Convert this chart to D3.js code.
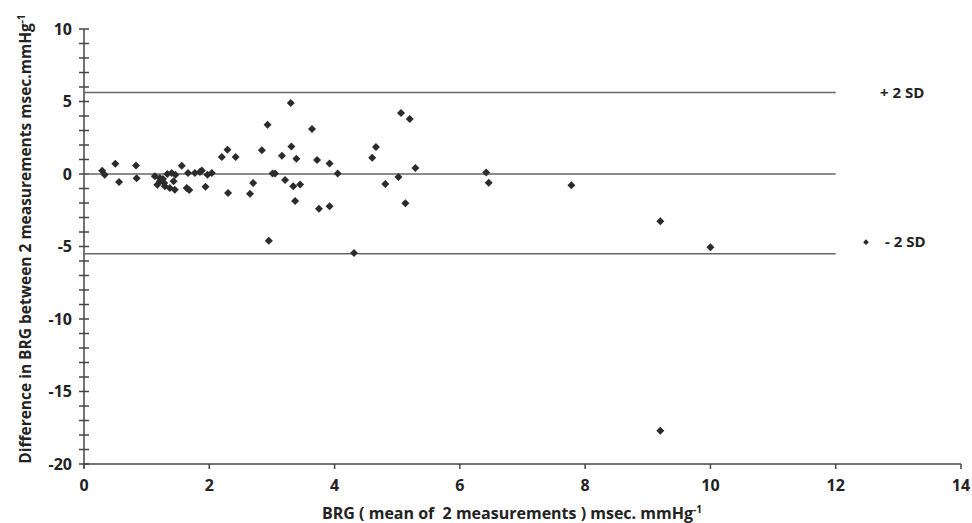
<!DOCTYPE html>
<html lang="en">
<head>
  <meta charset="UTF-8">
  <title>BRG Bland-Altman plot</title>
  <script src="https://d3js.org/d3.v7.min.js"></script>
  <style>
    body { margin: 0; background: #fff; }
    svg text { font-family: "Open Sans", "Liberation Sans", sans-serif; font-weight: bold; fill: #222; white-space: pre; }
    .tick-mark { stroke: #444; stroke-width: 1.5; }
  </style>
</head>
<body>
  <svg class="chart" width="972" height="523"></svg>
  <script>
    // mean of 2 measurements (x) and difference between them (y)
    const brgMean = [0.29, 0.33, 0.50, 0.56, 0.83, 0.84, 1.13, 1.17, 1.21, 1.21,
      1.26, 1.28, 1.29, 1.33, 1.37, 1.40, 1.43, 1.45, 1.46, 1.56,
      1.64, 1.68, 1.66, 1.77, 1.85, 1.88, 1.94, 1.97, 2.04, 2.20,
      2.29, 2.42, 2.30, 2.65, 2.70, 2.84, 2.93, 2.95, 3.01, 3.05,
      3.16, 3.21, 3.30, 3.31, 3.34, 3.37, 3.39, 3.45, 3.64, 3.72,
      3.75, 3.92, 3.92, 4.05, 4.31, 4.60, 4.66, 4.81, 5.02, 5.06,
      5.13, 5.20, 5.29, 6.42, 6.46, 7.78, 9.20, 9.20, 10.00];
    const brgDiff = [0.23, -0.05, 0.71, -0.55, 0.59, -0.30, -0.16, -0.74, -0.50, -0.28,
      -0.35, -0.62, -0.85, 0.00, -0.96, 0.07, -0.50, -1.08, -0.05, 0.57,
      -0.96, -1.10, 0.07, 0.07, 0.14, 0.25, -0.88, -0.05, 0.07, 1.17,
      1.67, 1.17, -1.31, -1.36, -0.62, 1.63, 3.39, -4.61, 0.04, 0.04,
      1.26, -0.41, 4.90, 1.90, -0.85, -1.86, 1.05, -0.72, 3.11, 0.96,
      -2.39, 0.73, -2.23, 0.04, -5.44, 1.12, 1.86, -0.69, -0.21, 4.20,
      -2.02, 3.80, 0.41, 0.10, -0.60, -0.78, -3.26, -17.7, -5.05];

    // reference lines: +2 SD, mean, -2 SD, drawn from x = 0 to 12
    const refLines = [5.62, 0.0, -5.5];
    const refLineEnd = 12;
    const xTicks = [0, 2, 4, 6, 8, 10, 12, 14];
    const yTicks = [10, 5, 0, -5, -10, -15, -20];
    const yMinorTicks = d3.range(-20, 11);

    const svg = d3.select(".chart");
    const x = d3.scaleLinear().domain([0, 14]).range([84, 961]);
    const y = d3.scaleLinear().domain([-20, 10]).range([464, 29]);

    // y axis, a tick every unit crossing the axis
    const yAxis = svg.append("g").attr("class", "y-axis");
    yAxis.append("line")
      .attr("class", "tick-mark")
      .attr("x1", x(0)).attr("x2", x(0))
      .attr("y1", y(10)).attr("y2", y(-20) + 4);
    yAxis.selectAll("line.y-minor")
      .data(yMinorTicks)
      .join("line")
      .attr("class", "y-minor tick-mark")
      .attr("x1", x(0) - 5).attr("x2", x(0) + 5)
      .attr("y1", d => y(d)).attr("y2", d => y(d));
    yAxis.selectAll("text.y-label")
      .data(yTicks)
      .join("text")
      .attr("class", "y-label")
      .attr("x", x(0) - 12)
      .attr("y", d => y(d))
      .attr("dy", "0.35em")
      .attr("text-anchor", "end")
      .style("font-size", "16px")
      .text(d => d);

    // x axis
    const xAxis = svg.append("g").attr("class", "x-axis");
    xAxis.append("line")
      .attr("class", "tick-mark")
      .attr("x1", x(0)).attr("x2", x(14))
      .attr("y1", y(-20)).attr("y2", y(-20));
    xAxis.selectAll("line.x-tick")
      .data(xTicks)
      .join("line")
      .attr("class", "x-tick tick-mark")
      .attr("x1", d => x(d)).attr("x2", d => x(d))
      .attr("y1", y(-20)).attr("y2", y(-20) + 5);
    xAxis.selectAll("text.x-label")
      .data(xTicks)
      .join("text")
      .attr("class", "x-label")
      .attr("x", d => x(d))
      .attr("y", y(-20) + 21)
      .attr("dy", "0.35em")
      .attr("text-anchor", "middle")
      .style("font-size", "16px")
      .text(d => d);

    // reference lines
    svg.selectAll("line.ref")
      .data(refLines)
      .join("line")
      .attr("class", "ref")
      .attr("x1", x(0)).attr("x2", x(refLineEnd))
      .attr("y1", d => y(d)).attr("y2", d => y(d))
      .attr("stroke", "#666").attr("stroke-width", 1.5);

    // points
    const diamond = d3.symbol().type(d3.symbolSquare).size(32);
    svg.selectAll("path.pt")
      .data(brgMean.map((m, i) => [m, brgDiff[i]]))
      .join("path")
      .attr("class", "pt")
      .attr("d", diamond)
      .attr("transform", d => `translate(${x(d[0])},${y(d[1])}) rotate(45)`)
      .attr("fill", "#2b2b2b");

    // SD labels
    svg.append("text")
      .attr("x", 880).attr("y", y(refLines[0]))
      .attr("dy", "0.35em")
      .style("font-size", "15px")
      .text("+ 2 SD");
    svg.append("path")
      .attr("d", d3.symbol().type(d3.symbolSquare).size(16))
      .attr("transform", `translate(866,${y(-4.7)}) rotate(45)`)
      .attr("fill", "#2b2b2b");
    svg.append("text")
      .attr("x", 885).attr("y", y(-4.7))
      .attr("dy", "0.35em")
      .style("font-size", "15px")
      .text("- 2 SD");

    // axis titles
    const xTitle = svg.append("text")
      .attr("x", 512).attr("y", 513)
      .attr("dy", "0.35em")
      .attr("text-anchor", "middle")
      .style("font-size", "16px")
      .text("BRG ( mean of  2 measurements ) msec. mmHg");
    xTitle.append("tspan").attr("dy", "-0.6em").style("font-size", "10px").text("-1");

    const yTitle = svg.append("text")
      .attr("transform", "translate(26,239) rotate(-90)")
      .attr("dy", "0.35em")
      .attr("text-anchor", "middle")
      .style("font-size", "15.5px")
      .text("Difference in BRG between 2 measurements msec.mmHg");
    yTitle.append("tspan").attr("dy", "-0.6em").style("font-size", "10px").text("-1");
  </script>
</body>
</html>
